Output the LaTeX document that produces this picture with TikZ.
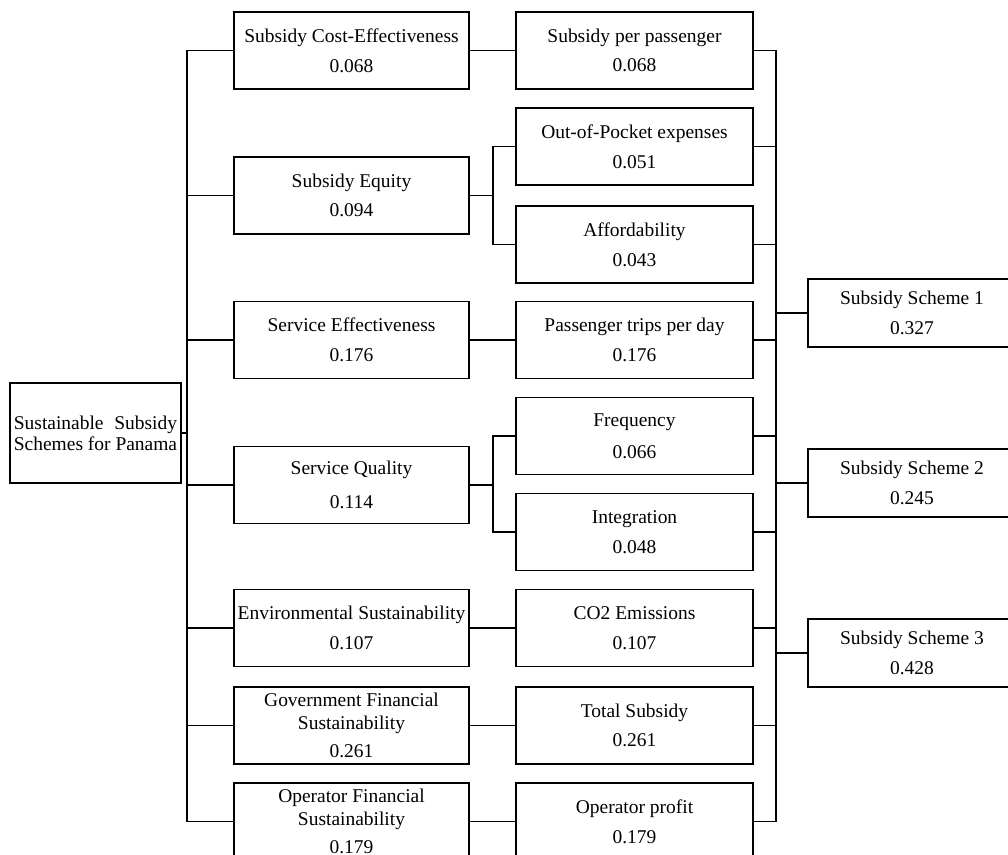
\documentclass[tikz,border=0pt]{standalone}
\usepackage{fontspec}
\setmainfont{Liberation Serif}
\newsavebox{\rootline}
\begin{document}
\begin{tikzpicture}[x = 0.75pt, y = -0.75pt,
        wire/.style = {black, line width = 0.9pt, line cap = rect},
        box/.style = {draw, black, line width = 0.9pt, inner sep = 0pt, align = center,
            font = \fontsize{14.6}{17.3}\selectfont},
        critbox/.style = {box, minimum width = 176.25pt, minimum height = 57.75pt},
        subbox/.style = {box, minimum width = 177.75pt, minimum height = 57.75pt},
        schemebox/.style = {box, minimum width = 156pt, minimum height = 51pt},
        rootbox/.style = {box, minimum width = 128.25pt, minimum height = 75pt,
            align = left, font = \fontsize{14.6}{15.75}\selectfont}]
    \useasboundingbox (0,0) rectangle (1008,855);
    \clip (0,0) rectangle (1008,855);

    \node[rootbox] (root) at (95.5,433) {\global\setbox\rootline=\hbox{Schemes for Panama}\makebox[\wd\rootline][s]{Sustainable Subsidy}\\\usebox{\rootline}};

    \node[critbox] (cost) at (351.5,50.5) {Subsidy Cost-Effectiveness\\[5pt]0.068};
    \node[critbox] (equity) at (351.5,195.5) {Subsidy Equity\\[5pt]0.094};
    \node[critbox] (effect) at (351.5,340) {Service Effectiveness\\[5pt]0.176};
    \node[critbox] (quality) at (351.5,485) {Service Quality\\[8pt]0.114};
    \node[critbox] (envir) at (351.5,628) {Environmental Sustainability\\[5pt]0.107};
    \node[critbox] (govfin) at (351.5,725.5) {Government Financial\\Sustainability\\[4pt]0.261};
    \node[critbox] (opfin) at (351.5,821.5) {Operator Financial\\Sustainability\\[4pt]0.179};

    \node[subbox] (perpass) at (634.5,50.5) {Subsidy per passenger\\[5pt]0.068};
    \node[subbox] (pocket) at (634.5,146.5) {Out-of-Pocket expenses\\[5pt]0.051};
    \node[subbox] (afford) at (634.5,244.5) {Affordability\\[5pt]0.043};
    \node[subbox] (trips) at (634.5,340) {Passenger trips per day\\[5pt]0.176};
    \node[subbox] (freq) at (634.5,436) {Frequency\\[7pt]0.066};
    \node[subbox] (integ) at (634.5,532) {Integration\\[5pt]0.048};
    \node[subbox] (coemis) at (634.5,628) {CO2 Emissions\\[5pt]0.107};
    \node[subbox] (totsub) at (634.5,725.5) {Total Subsidy\\[5pt]0.261};
    \node[subbox] (profit) at (634.5,821.5) {Operator profit\\[5pt]0.179};

    \node[schemebox] (scheme1) at (912,313) {Subsidy Scheme 1\\[5pt]0.327};
    \node[schemebox] (scheme2) at (912,483) {Subsidy Scheme 2\\[5pt]0.245};
    \node[schemebox] (scheme3) at (912,653) {Subsidy Scheme 3\\[5pt]0.428};

    \coordinate (spineL) at (187,0);
    \coordinate (spineR) at (776,0);
    \coordinate (forkE) at (493,0);
    \coordinate (forkQ) at (493,0);

    \draw[wire] (root.east) -- (root.east -| spineL);
    \draw[wire] (cost.west -| spineL) -- (opfin.west -| spineL);
    \foreach \crit in {cost, equity, effect, quality, envir, govfin, opfin}
        \draw[wire] (\crit.west) -- (\crit.west -| spineL);

    \draw[wire] (cost.east) -- (perpass.west);
    \draw[wire] (effect.east) -- (trips.west);
    \draw[wire] (envir.east) -- (coemis.west);
    \draw[wire] (govfin.east) -- (totsub.west);
    \draw[wire] (opfin.east) -- (profit.west);

    \draw[wire] (equity.east) -- (equity.east -| forkE);
    \draw[wire] (pocket.west) -| (forkE |- afford.west) -- (afford.west);
    \draw[wire] (quality.east) -- (quality.east -| forkQ);
    \draw[wire] (freq.west) -| (forkQ |- integ.west) -- (integ.west);

    \foreach \sub in {perpass, pocket, afford, trips, freq, integ, coemis, totsub, profit}
        \draw[wire] (\sub.east) -- (\sub.east -| spineR);
    \draw[wire] (perpass.east -| spineR) -- (profit.east -| spineR);
    \foreach \alt in {scheme1, scheme2, scheme3}
        \draw[wire] (\alt.west) -- (\alt.west -| spineR);
\end{tikzpicture}
\end{document}
